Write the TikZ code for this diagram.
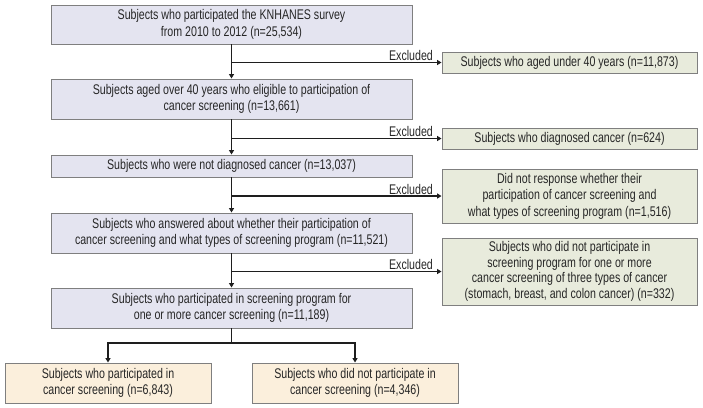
\documentclass[tikz,border=0pt]{standalone}
\usepackage{fontspec}
\setmainfont{Liberation Sans}[FakeStretch=0.76]
\usetikzlibrary{arrows.meta}
\definecolor{mainfill}{HTML}{E4E4F0}
\definecolor{exfill}{HTML}{E8EBDC}
\definecolor{endfill}{HTML}{FBEFDC}
\definecolor{edge}{HTML}{7F7F7F}
\definecolor{wire}{HTML}{1E1E1E}
\tikzset{
  box/.style={draw=edge, line width=0.9pt, rectangle, inner sep=0pt, align=center,
    font=\fontsize{14}{16.5}\selectfont, text=black!85},
  mainbox/.style={box, fill=mainfill, minimum width=361pt},
  exbox/.style={box, fill=exfill, minimum width=255pt},
  endbox/.style={box, fill=endfill, minimum width=206pt, minimum height=40pt},
  wireline/.style={draw=wire, line width=1.6pt},
  arrowline/.style={wireline, -{Triangle[length=4.5pt,width=5pt]}},
  exlabel/.style={font=\fontsize{14}{16}\selectfont, text=black!85, inner sep=1.5pt, anchor=south east},
}
\begin{document}
\begin{tikzpicture}[x=1pt,y=-1pt]
\useasboundingbox (0,0) rectangle (703,407);
% main column
\node[mainbox, minimum height=39pt] (b1) at (231.5,24.5) {Subjects who participated the KNHANES survey\\from 2010 to 2012 (n=25,534)};
\node[mainbox, minimum height=40pt] (b2) at (231.5,99) {Subjects aged over 40 years who eligible to participation of\\cancer screening (n=13,661)};
\node[mainbox, minimum height=22pt] (b3) at (231.5,166) {Subjects who were not diagnosed cancer (n=13,037)};
\node[mainbox, minimum height=40pt] (b4) at (231.5,233) {Subjects who answered about whether their participation of\\cancer screening and what types of screening program (n=11,521)};
\node[mainbox, minimum height=40pt] (b5) at (231.5,308) {Subjects who participated in screening program for\\one or more cancer screening (n=11,189)};
% excluded column
\node[exbox, minimum height=21pt] (r1) at (569.5,62.5) {Subjects who aged under 40 years (n=11,873)};
\node[exbox, minimum height=21pt] (r2) at (569.5,138.5) {Subjects who diagnosed cancer (n=624)};
\node[exbox, minimum height=54pt] (r3) at (569.5,196) {Did not response whether their\\participation of cancer screening and\\what types of screening program (n=1,516)};
\node[exbox, minimum height=67pt, font=\fontsize{14}{15.5}\selectfont] (r4) at (569.5,271.5) {Subjects who did not participate in\\screening program for one or more\\cancer screening of three types of cancer\\(stomach, breast, and colon cancer) (n=332)};
% final groups
\node[endbox] (e1) at (108,383) {Subjects who participated in\\cancer screening (n=6,843)};
\node[endbox] (e2) at (355,383) {Subjects who did not participate in\\cancer screening (n=4,346)};
% vertical flow
\draw[arrowline] (b1) -- (b2);
\draw[arrowline] (b2) -- (b3);
\draw[arrowline] (b3) -- (b4);
\draw[arrowline] (b4) -- (b5);
% exclusions
\foreach \r in {r1,r2,r3,r4}{
  \coordinate (j\r) at (b1.south |- \r.west);
  \draw[arrowline] (j\r) -- (\r.west);
  \node[exlabel] at ([xshift=-7pt]\r.west) {Excluded};
}
% split
\coordinate (split) at (231.5,343);
\coordinate (sl) at (e1.north |- split);
\coordinate (sr) at (e2.north |- split);
\draw[wireline] (b5.south) -- (split);
\draw[arrowline] (split) -- (sl) -- (e1.north);
\draw[arrowline] (split) -- (sr) -- (e2.north);
\end{tikzpicture}
\end{document}
